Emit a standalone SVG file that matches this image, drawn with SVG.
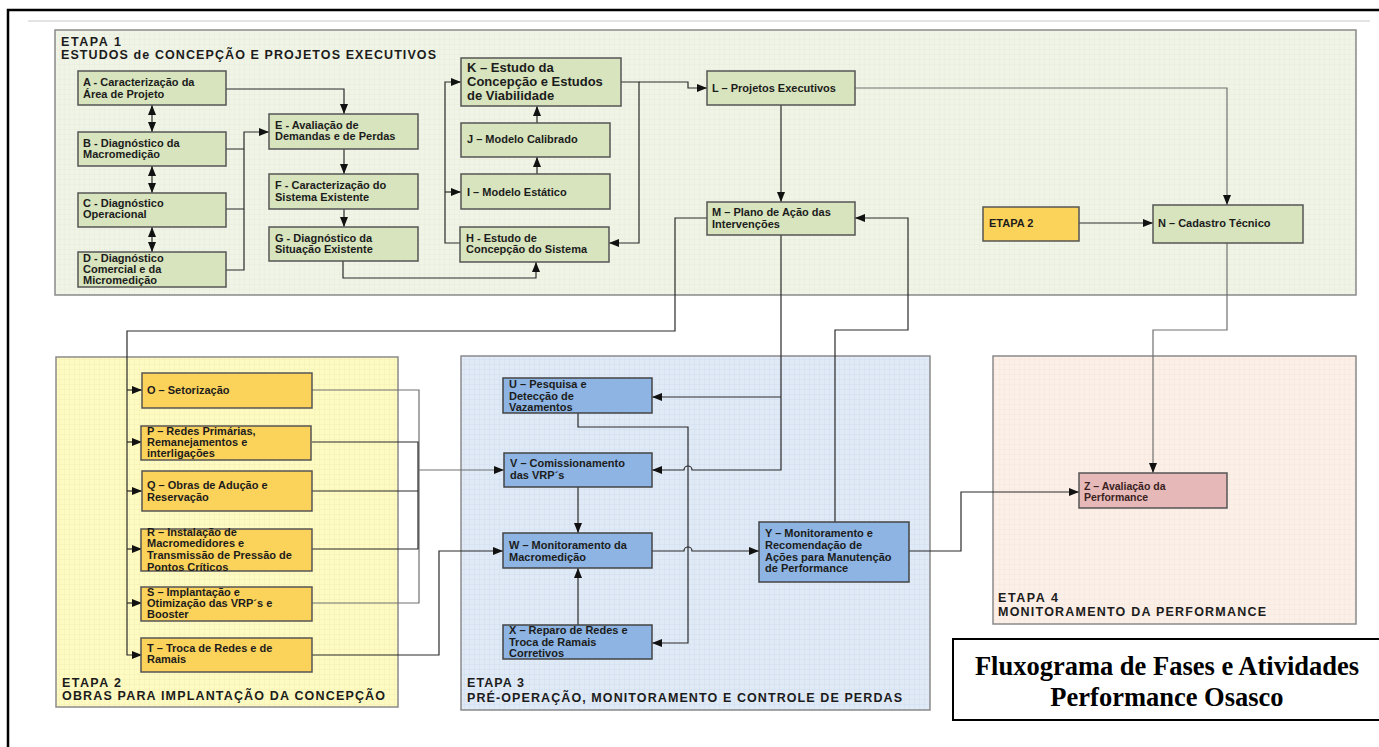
<svg xmlns="http://www.w3.org/2000/svg" width="1379" height="747" viewBox="0 0 1379 747">
<defs>
<pattern id="g1" width="5" height="5" patternUnits="userSpaceOnUse"><rect width="5" height="5" fill="#f0f4e6"/><path d="M5,0 V5 M0,5 H5" stroke="#e2e8d4" stroke-width="0.6"/></pattern>
<pattern id="g2" width="5" height="5" patternUnits="userSpaceOnUse"><rect width="5" height="5" fill="#fdfbc2"/><path d="M5,0 V5 M0,5 H5" stroke="#efeaa8" stroke-width="0.6"/></pattern>
<pattern id="g3" width="5" height="5" patternUnits="userSpaceOnUse"><rect width="5" height="5" fill="#e0e9f6"/><path d="M5,0 V5 M0,5 H5" stroke="#c9d7ec" stroke-width="0.6"/></pattern>
<pattern id="g4" width="5" height="5" patternUnits="userSpaceOnUse"><rect width="5" height="5" fill="#fbefe7"/><path d="M5,0 V5 M0,5 H5" stroke="#f1e0d6" stroke-width="0.6"/></pattern>
<marker id="arr" viewBox="0 0 10 8" refX="10" refY="4" markerWidth="10" markerHeight="8" orient="auto-start-reverse" markerUnits="userSpaceOnUse"><path d="M0,0 L10,4 L0,8 z" fill="#111"/></marker>
</defs>
<style>
.panel{stroke:#8a8a8a;stroke-width:1.5}
.ng{fill:#d7e4bd;stroke:#555;stroke-width:1.5}
.ny{fill:#fcd35a;stroke:#555;stroke-width:1.5}
.nb{fill:#8db4e2;stroke:#444;stroke-width:1.5}
.nr{fill:#e6b9b8;stroke:#555;stroke-width:1.5}
.t{font-family:"Liberation Sans",Arial,sans-serif;font-weight:bold;font-size:11px;fill:#1c1c1c}
.tk{font-family:"Liberation Sans",Arial,sans-serif;font-weight:bold;font-size:13px;fill:#1c1c1c}
.ti{font-family:"Liberation Sans",Arial,sans-serif;font-weight:bold;font-size:12.5px;fill:#1c1c1c}
.big{font-family:"Liberation Serif","Times New Roman",serif;font-weight:bold;font-size:26.5px;fill:#000}
.c{fill:none;stroke:#2a2a2a;stroke-width:1.2}
.cg{fill:none;stroke:#707070;stroke-width:1.2}
.a{marker-end:url(#arr)}
</style>
<rect width="1379" height="747" fill="#fff"/>
<!-- outer frame -->
<path d="M8,747 V10 H1379" fill="none" stroke="#000" stroke-width="2.5"/>
<line x1="28" y1="21" x2="1370" y2="21" stroke="#c8c8c8" stroke-width="1"/>

<!-- panels -->
<g id="etapa1">
<rect class="panel" x="55" y="30" width="1301" height="265" fill="url(#g1)"/>
<text class="ti" x="61" y="46" textLength="60" lengthAdjust="spacing">ETAPA 1</text>
<text class="ti" x="61" y="59" textLength="375" lengthAdjust="spacing">ESTUDOS de CONCEPÇÃO E PROJETOS EXECUTIVOS</text>
</g>
<g id="etapa2">
<rect class="panel" x="56" y="357" width="342" height="350" fill="url(#g2)"/>
<text class="ti" x="62" y="687" textLength="59" lengthAdjust="spacing">ETAPA 2</text>
<text class="ti" x="62" y="700" textLength="323" lengthAdjust="spacing">OBRAS PARA IMPLANTAÇÃO DA CONCEPÇÃO</text>
</g>
<g id="etapa3">
<rect class="panel" x="461" y="356" width="469" height="354" fill="url(#g3)"/>
<text class="ti" x="467" y="687" textLength="57" lengthAdjust="spacing">ETAPA 3</text>
<text class="ti" x="467" y="702" textLength="435" lengthAdjust="spacing">PRÉ-OPERAÇÃO, MONITORAMENTO E CONTROLE DE PERDAS</text>
</g>
<g id="etapa4">
<rect class="panel" x="993" y="356" width="363" height="268" fill="url(#g4)"/>
<text class="ti" x="998" y="602" textLength="60" lengthAdjust="spacing">ETAPA 4</text>
<text class="ti" x="998" y="616" textLength="268" lengthAdjust="spacing">MONITORAMENTO DA PERFORMANCE</text>
</g>

<!-- connectors -->
<g id="connectors">
<path class="c a" d="M226,89 H344 V114"/>
<path class="c" d="M152,105 V132" marker-start="url(#arr)" marker-end="url(#arr)"/>
<path class="c" d="M152,166 V193" marker-start="url(#arr)" marker-end="url(#arr)"/>
<path class="c" d="M152,227 V252" marker-start="url(#arr)" marker-end="url(#arr)"/>
<path class="c" d="M226,149 H244 M226,209 H244"/>
<path class="c a" d="M226,270 H244 V132 H269"/>
<path class="c a" d="M344,149 V174"/>
<path class="c a" d="M344,209 V227"/>
<path class="c a" d="M343,261 V278 H536 V262"/>
<path class="c a" d="M460,243 H445 V82 H461"/>
<path class="c a" d="M445,192 H461"/>
<path class="c a" d="M537,174 V157"/>
<path class="c a" d="M537,123 V106"/>
<path class="c a" d="M621,82 H639 V243 H609"/>
<path class="c a" d="M639,82 H688 V88 H707"/>
<path class="c a" d="M781,105 V202"/>
<path class="cg a" d="M855,88 H1227 V205"/>
<path class="c a" d="M1079,223 H1153"/>
<path class="c a" d="M707,218 H675 V331 H127 V655 H142"/>
<path class="c a" d="M127,390 H142"/>
<path class="c a" d="M127,442 H142"/>
<path class="c a" d="M127,491 H142"/>
<path class="c a" d="M127,549 H142"/>
<path class="c a" d="M127,603 H142"/>
<path class="c a" d="M781,235 V470 H692 A4,4 0 0 0 684,470 H652"/>
<path class="c a" d="M781,397 H652"/>
<path class="c a" d="M835,522 V330 H908 V218 H855"/>
<path class="cg" d="M312,390 H419 V603 H312"/>
<path class="c" d="M312,442 H418 V549 H312 M312,491 H418"/>
<path class="cg a" d="M419,470 H504"/>
<path class="c a" d="M312,655 H439 V551 H503"/>
<path class="c a" d="M578,413 V427 H688 V643 H652"/>
<path class="c a" d="M578,487 V533"/>
<path class="c a" d="M578,625 V568"/>
<path class="c a" d="M652,551 H684 A4,4 0 0 1 692,551 H759"/>
<path class="c a" d="M909,551 H961 V492 H1079"/>
<path class="cg a" d="M1227,243 V330 H1153 V473"/>
</g>

<!-- Etapa 1 nodes -->
<g id="nodeA"><rect class="ng" x="78" y="71" width="148" height="34"/><text class="t" x="83" y="86">A - Caracterização da</text><text class="t" x="83" y="98">Área de Projeto</text></g>
<g id="nodeB"><rect class="ng" x="78" y="132" width="148" height="34"/><text class="t" x="83" y="147">B - Diagnóstico da</text><text class="t" x="83" y="158">Macromedição</text></g>
<g id="nodeC"><rect class="ng" x="78" y="193" width="148" height="34"/><text class="t" x="83" y="207">C - Diagnóstico</text><text class="t" x="83" y="218">Operacional</text></g>
<g id="nodeD"><rect class="ng" x="78" y="252" width="148" height="35"/><text class="t" x="83" y="262">D - Diagnóstico</text><text class="t" x="83" y="273">Comercial e da</text><text class="t" x="83" y="284">Micromedição</text></g>
<g id="nodeE"><rect class="ng" x="269" y="114" width="149" height="35"/><text class="t" x="275" y="129">E - Avaliação de</text><text class="t" x="275" y="140">Demandas e de Perdas</text></g>
<g id="nodeF"><rect class="ng" x="269" y="174" width="149" height="35"/><text class="t" x="275" y="189">F - Caracterização do</text><text class="t" x="275" y="201">Sistema Existente</text></g>
<g id="nodeG"><rect class="ng" x="269" y="227" width="149" height="34"/><text class="t" x="275" y="242">G - Diagnóstico da</text><text class="t" x="275" y="253">Situação Existente</text></g>
<g id="nodeK"><rect class="ng" x="461" y="58" width="160" height="48"/><text class="tk" x="467" y="72">K  – Estudo da</text><text class="tk" x="467" y="86">Concepção e Estudos</text><text class="tk" x="467" y="100">de Viabilidade</text></g>
<g id="nodeJ"><rect class="ng" x="461" y="123" width="149" height="34"/><text class="t" x="467" y="143">J  – Modelo Calibrado</text></g>
<g id="nodeI"><rect class="ng" x="461" y="174" width="149" height="35"/><text class="t" x="467" y="196">I – Modelo Estático</text></g>
<g id="nodeH"><rect class="ng" x="460" y="227" width="149" height="35"/><text class="t" x="466" y="242">H - Estudo de</text><text class="t" x="466" y="253">Concepção do Sistema</text></g>
<g id="nodeL"><rect class="ng" x="707" y="71" width="148" height="34"/><text class="t" x="712" y="92">L – Projetos Executivos</text></g>
<g id="nodeM"><rect class="ng" x="707" y="202" width="148" height="33"/><text class="t" x="712" y="216">M – Plano de Ação das</text><text class="t" x="712" y="228">Intervenções</text></g>
<g id="nodeEtapa2"><rect class="ny" x="983" y="207" width="96" height="34"/><text class="t" x="989" y="227">ETAPA 2</text></g>
<g id="nodeN"><rect class="ng" x="1153" y="205" width="150" height="38"/><text class="t" x="1158" y="227">N – Cadastro Técnico</text></g>

<!-- Etapa 2 nodes -->
<g id="nodeO"><rect class="ny" x="142" y="373" width="170" height="35"/><text class="t" x="147" y="394">O – Setorização</text></g>
<g id="nodeP"><rect class="ny" x="141" y="426" width="170" height="34"/><text class="t" x="147" y="435">P – Redes Primárias,</text><text class="t" x="147" y="446">Remanejamentos e</text><text class="t" x="147" y="457">interligações</text></g>
<g id="nodeQ"><rect class="ny" x="142" y="471" width="170" height="40"/><text class="t" x="147" y="489">Q – Obras de Adução e</text><text class="t" x="147" y="501">Reservação</text></g>
<g id="nodeR"><rect class="ny" x="141" y="529" width="171" height="42"/><text class="t" x="147" y="536">R – Instalação de</text><text class="t" x="147" y="547">Macromedidores e</text><text class="t" x="147" y="559">Transmissão de Pressão de</text><text class="t" x="147" y="571">Pontos Críticos</text></g>
<g id="nodeS"><rect class="ny" x="141" y="587" width="171" height="34"/><text class="t" x="147" y="596">S – Implantação e</text><text class="t" x="147" y="607">Otimização das VRP´s e</text><text class="t" x="147" y="618">Booster</text></g>
<g id="nodeT"><rect class="ny" x="141" y="638" width="171" height="34"/><text class="t" x="147" y="652">T – Troca de Redes e  de</text><text class="t" x="147" y="663">Ramais</text></g>

<!-- Etapa 3 nodes -->
<g id="nodeU"><rect class="nb" x="503" y="378" width="149" height="35"/><text class="t" x="509" y="388">U – Pesquisa e</text><text class="t" x="509" y="400">Detecção de</text><text class="t" x="509" y="411">Vazamentos</text></g>
<g id="nodeV"><rect class="nb" x="504" y="453" width="148" height="34"/><text class="t" x="510" y="467">V – Comissionamento</text><text class="t" x="510" y="479">das VRP´s</text></g>
<g id="nodeW"><rect class="nb" x="503" y="533" width="149" height="35"/><text class="t" x="509" y="549">W – Monitoramento da</text><text class="t" x="509" y="561">Macromedição</text></g>
<g id="nodeX"><rect class="nb" x="503" y="625" width="149" height="34"/><text class="t" x="509" y="634">X – Reparo de Redes e</text><text class="t" x="509" y="646">Troca de Ramais</text><text class="t" x="509" y="657">Corretivos</text></g>
<g id="nodeY"><rect class="nb" x="759" y="522" width="150" height="60"/><text class="t" x="765" y="537">Y – Monitoramento e</text><text class="t" x="765" y="549">Recomendação de</text><text class="t" x="765" y="561">Ações para Manutenção</text><text class="t" x="765" y="572">de Performance</text></g>

<!-- Etapa 4 node -->
<g id="nodeZ"><rect class="nr" x="1079" y="473" width="148" height="35"/><text class="t" x="1084" y="490" style="font-size:10.5px;fill:#3a2222">Z – Avaliação da</text><text class="t" x="1084" y="501" style="font-size:10.5px;fill:#3a2222">Performance</text></g>

<!-- title box -->
<g id="title">
<rect x="953" y="639" width="440" height="81" fill="#fff" stroke="#000" stroke-width="2"/>
<text class="big" x="1167" y="675" text-anchor="middle">Fluxograma de Fases e Atividades</text>
<text class="big" x="1167" y="706" text-anchor="middle">Performance Osasco</text>
</g>
</svg>
